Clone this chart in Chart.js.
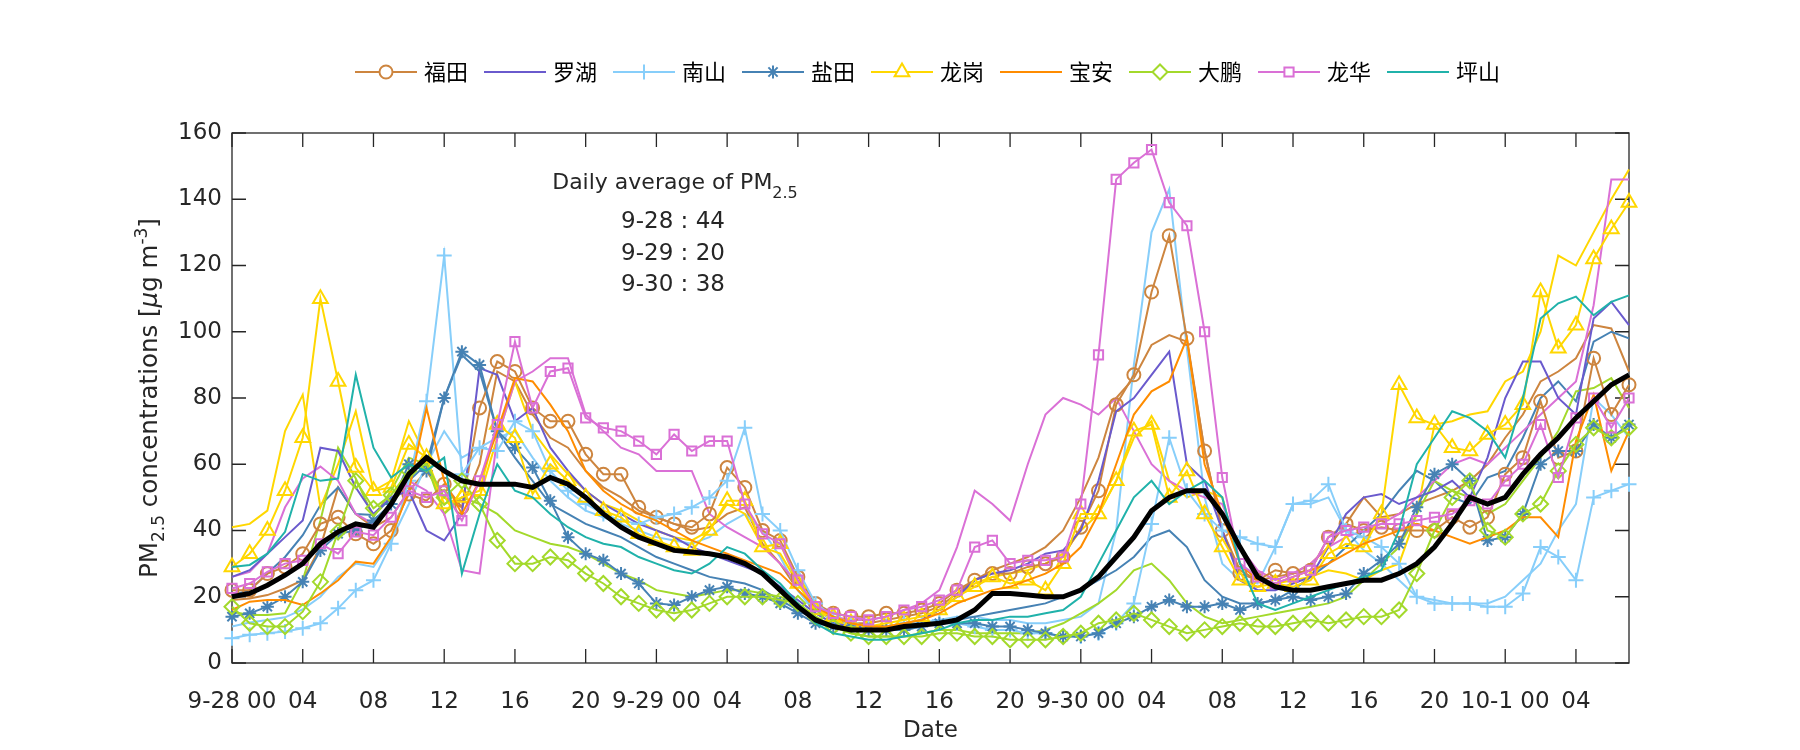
<!DOCTYPE html>
<html><head><meta charset="utf-8">
<script src="https://cdn.jsdelivr.net/npm/chart.js@4.4.1/dist/chart.umd.min.js"></script>
<style>html,body{margin:0;padding:0;background:#fff;}#wrap{width:1800px;height:750px;}</style>
</head><body><div id="wrap"><canvas id="c" width="1800" height="750"></canvas></div>
<script>
// ---------- tick labels (every 4 hours) ----------
const xTickLabels = ['9-28 00','04','08','12','16','20','9-29 00','04','08','12','16','20','9-30 00','04','08','12','16','20','10-1 00','04'];

// ---------- hourly PM2.5 series (9-28 00:00 ... 10-1 07:00) ----------
const futian   = [22,22,27,29,33,42,44,39,36,40, 51,49,54,47,77,91,88,77,73,73, 63,57,57,47,44,42,41,45,59,53, 40,37,26,18,15,14,14,15,15,16, 18,22,25,27,27,29,30,32,41,52, 78,87,112,129,98,64,40,27,25,28, 27,28,38,42,40,41,40,40,40,44, 41,44,57,62,79,62,64,92,75,84];
const futian2  = [19,19.5,20.5,22.5,25,35,53,45,41,44, 52,58,50,47,60,88,85,75,68,65, 58,53,50,46,44,42,40,41,45,47, 36,30,22,16,13,12,12,13,14,15, 17,21,25,28,30,32,35,40,50,62, 80,86,96,99,97,64,40,28,25,26, 27,30,35,42,50,44,45,48,50,52, 55,60,68,75,85,88,92,102,101,88];
const luohu    = [26,28,33,38,43,65,64,53,45,50, 52,40,37,45,89,87,73,77,65,58, 52,48,45,42,40,38,35,33,31,29, 27,23,19,15,12,11,11,11,12,13, 16,20,25,27,28,30,33,34,40,55, 76,80,87,94,60,55,40,25,22,22, 24,26,35,45,50,51,48,50,52,55, 50,62,80,91,91,80,75,104,109,102];
const nanshan  = [7.5,8.5,9,9.5,10.5,12,16.5,22,25,36, 55,79,123,57,65,64,73,70,58,52, 48,45,43,42,44,45,47,50,55,71, 45,40,28,18,14,12,11,11,12,12, 13,12,11,10,10,9,9,8,8,9, 12,18,42,68,52,45,40,38,36,35, 48,49,54,40,38,35,30,20,18,18, 18,17,17,21,35,32,25,50,52,54];
const nanshan2 = [11,12.2,13,13.8,16.2,20,26,30,29,37, 48,60,70,62,65,68,70,62,55,50, 46,44,42,40,38,37,36,38,42,45, 40,32,22,15,12,11,11,11,12,12, 13,14,14,13,13,12,12,13,14,18, 40,90,130,143,95,50,30,25,24,35, 48,48,50,40,34,30,25,20,19,18, 18,18,20,25,30,40,48,80,75,68];
const yantian  = [14,15,17,20,24.5,34,39,40,43,48, 60,58,80,94,90,70,65,59,49,38, 33,31,27,24,18,17.5,20,22,23,21, 20,18,15,12,11,11,10,10,10,11, 12,12,12,11,11,10,9,8,8,9, 12,14,17,19,17,17,18,16,18,19, 20,19,20,21,27,31,36,47,57,60, 55,37,38,45,60,64,64,72,68,72];
const yantian2 = [20.5,22,27,32,38.6,47.7,53,45,44.7,49.7, 55,60,80,93,88,70,62,55,48,45, 42,40,38,35,32,30,28,26,25,24, 22,19,16,13,11,10,10,10,10,11, 12,13,14,15,16,17,18,20,22,25, 28,32,38,40,35,25,20,18,18,19, 22,26,30,35,40,45,52,58,55,50, 48,56,58,68,80,85,79,97,100,98];
const longgang = [29,33,40,52,68,110,85,59,52,53, 66,62,48,50,52,72,68,51,60,55, 50,46,44,39,37,35,34,40,49,49, 35,36,24,16,14,12,11,12,13,14, 16,20,23,26,24,25,22,30,45,45, 55,70,72,50,58,45,35,25,23,24, 23,25,33,36,35,45,84,74,72,65, 64,69,72,78,112,95,102,122,131,139];
const longgang2= [41,42,46,70,81,47,60,76,52,55, 73,62,45,52,50,68,85,70,63,57, 52,48,46,43,40,38,37,40,48,45, 35,33,24,16,13,11,10,11,12,13, 16,20,24,26,27,28,30,33,40,45, 55,68,73,55,50,52,50,30,25,24, 25,26,28,27,25,28,30,45,72,73, 75,76,85,88,100,123,120,130,140,149];
const baoan    = [16,18.5,19,19,17.5,21,25,30.6,30,38, 52,77,55,45,55,70,86,85,78,70, 58,52,48,45,43,40,37,35,33,31, 29,27,22,17,14,12,11,11,12,13, 15,18,20,22,23,25,27,30,35,45, 60,75,82,85,98,60,45,30,25,24, 26,28,30,33,36,38,40,42,40,38, 36,38,40,44,44,38,67,81,58,70];
const dapeng   = [17,12,11,11,15.5,24.5,39.6,55,46.7,50.7, 58,60,50,55,48,37,30,30,32,31, 27,24,20,18,16,15,16,18,20,20, 20,19,18,14,11,9,8,8,8,8, 9,9,8,8,7,7,7,8,9,12, 13,15,13,11,9,10,11,12,11,11, 12,13,12,13,14,14,16,27,40,50, 55,40,38,45,48,58,66,71,68,71];
const dapeng2  = [15.5,14.5,14.5,15,25,43,65,55.7,44,52, 62,60,45,50,48,45,40,38,36,35, 33,30,27,25,22,21,20,21,22,22, 21,20,18,14,11,9,8,8,8,9, 10,10,9,9,9,9,10,12,15,18, 22,28,30,25,18,14,12,13,14,15, 16,17,18,20,25,30,35,45,55,52, 50,45,48,55,62,70,82,83,86,77];
const longhua  = [22.5,24,27.5,30,31,36,33,39.6,38.6,44, 52,50,52,43,55,72,97,77,88,89, 74,71,70,67,63,69,64,67,67,48, 39,36,25,17,15,14,13,14,16,17, 19,22,35,37,30,31,31,32,48,93, 146,151,155,139,132,100,56,30,26,24, 26,28,38,40,41,42,42,43,44,45, 49,48,55,60,72,56,74,80,71,80];
const longhua2 = [26,27.5,33,47,55.7,59.3,55,45,42,48, 55,52,45,28,27,68,85,88,92,92, 75,70,65,63,58,58,58,45,41,38, 35,30,24,17,14,13,13,14,16,18, 22,35,52,48,43,60,75,80,78,75, 80,70,60,55,52,50,48,35,28,25, 27,30,35,38,40,42,45,50,55,60, 62,60,65,70,75,80,85,108,146,146];
const pingshan = [29,29.6,33,39.6,57,55,55.7,87,65,56, 60,58,62,27,45,60,52,50,45,41, 38,36,35,32,30,28,27,30,35,33, 28,24,18,12,9,8,7,7,8,9, 10,12,13,13,14,14,15,16,20,30, 40,50,55,48,52,55,50,30,18,16, 18,20,22,24,26,28,40,60,68,76, 74,70,62,80,104,108.6,110.6,105,109,111];
const average  = [20,21,23.5,26.5,30,36,39.6,42,41,48, 57,62,58,55,54,54,54,53,56,54, 50,45,41,38,36,34,33.5,33,32,30, 27,22,17,13,11,10,10,10,11,11.5, 12,13,16,21,21,20.5,20,20,22,26, 32,38,46,50,52,52,45,35,26,23, 22,22,23,24,25,25,27,30,35,42, 50,48,50,57,63,68,74,79,84,87];

const dailyAvgLabels = ['9-28 : 44','9-29 : 20','9-30 : 38'];

// ---------- styles ----------
const C = {futian:'#CD853F', luohu:'#6A5ACD', nanshan:'#87CEFA', yantian:'#4682B4', longgang:'#FFD700',
           baoan:'#FF8C00', dapeng:'#A3D92B', longhua:'#DA70D6', pingshan:'#20B2AA'};
const TXT = '#262626';
const FONT = "'DejaVu Sans', 'Liberation Sans', sans-serif";

const legendDefs = [
  ['福田', futian,  C.futian,   'circle',   6.5],
  ['罗湖', luohu,   C.luohu,    null,       0],
  ['南山', nanshan, C.nanshan,  'cross',    7.5],
  ['盐田', yantian, C.yantian,  'star',     6.5],
  ['龙岗', longgang,C.longgang, 'triangle', 8.5],
  ['宝安', baoan,   C.baoan,    null,       0],
  ['大鹏', dapeng,  C.dapeng,   'rectRot',  7.5],
  ['龙华', longhua, C.longhua,  'rect',     6.5],
  ['坪山', pingshan,C.pingshan, null,       0]
];
const extraDefs = [
  ['福田2', futian2,  C.futian],
  ['南山2', nanshan2, C.nanshan],
  ['盐田2', yantian2, C.yantian],
  ['龙岗2', longgang2,C.longgang],
  ['大鹏2', dapeng2,  C.dapeng],
  ['龙华2', longhua2, C.longhua]
];

function toXY(arr){ return arr.map((v,i)=>({x:i, y:v})); }
function makeDs(label, arr, color, style, r, width, order){
  return {label, data: toXY(arr), borderColor: color, backgroundColor: color, borderWidth: width,
    pointStyle: style || false, pointRadius: style ? r : 0, pointHoverRadius: style ? r : 0,
    pointBorderWidth: 2, pointBorderColor: color, pointBackgroundColor: 'rgba(0,0,0,0)',
    tension: 0, clip: false, order};
}
const datasets = [];
legendDefs.forEach((d,i)=> datasets.push(makeDs(d[0], d[1], d[2], d[3], d[4], 2, 20 - i)));
extraDefs.forEach((d,i)=> datasets.push(makeDs(d[0], d[1], d[2], null, 0, 2, 30 - i)));
datasets.push(makeDs('平均', average, '#000000', null, 0, 5, 0));

// legend icons (line + marker), drawn with Chart.js point helper
const icons = legendDefs.map(d=>{
  const cv = document.createElement('canvas'); cv.width = 62; cv.height = 22;
  const g = cv.getContext('2d');
  g.strokeStyle = d[2]; g.lineWidth = 2;
  g.beginPath(); g.moveTo(0, 11); g.lineTo(62, 11); g.stroke();
  if (d[3]) {
    g.fillStyle = '#ffffff'; g.strokeStyle = d[2]; g.lineWidth = 2;
    Chart.helpers.drawPoint(g, {pointStyle: d[3], radius: d[4], rotation: 0, borderWidth: 2}, 31, 11);
  }
  return cv;
});

const legendPlace = {
  id: 'legendPlace',
  afterLayout(chart){
    const lg = chart.legend; if (!lg || !lg.lineWidths) return;
    const pad = lg.options.labels.padding;
    const start = (lg.left + pad + lg.right - lg.lineWidths[0]) / 2;
    const dx = 359 - start, dy = 41 - lg.top;
    lg.left += dx; lg.right += dx; lg.top += dy; lg.bottom += dy;
  }
};

const frame = {
  id: 'frame',
  beforeDatasetsDraw(chart){
    const {ctx, chartArea: a, scales: {x, y}} = chart;
    ctx.save();
    ctx.strokeStyle = TXT; ctx.lineWidth = 1.3;
    ctx.strokeRect(a.left, a.top, a.right - a.left, a.bottom - a.top);
    const tl = 14;
    ctx.beginPath();
    x.ticks.forEach(t=>{ const px = x.getPixelForValue(t.value);
      ctx.moveTo(px, a.bottom); ctx.lineTo(px, a.bottom - tl);
      ctx.moveTo(px, a.top); ctx.lineTo(px, a.top + tl); });
    y.ticks.forEach(t=>{ const py = y.getPixelForValue(t.value);
      ctx.moveTo(a.left, py); ctx.lineTo(a.left + tl, py);
      ctx.moveTo(a.right, py); ctx.lineTo(a.right - tl, py); });
    ctx.stroke(); ctx.restore();
  }
};

function drawRich(ctx, parts, x, y, align){
  let w = 0;
  parts.forEach(p=>{ ctx.font = p.font; w += ctx.measureText(p.t).width; });
  let cx = align === 'center' ? x - w/2 : x;
  ctx.textAlign = 'left';
  parts.forEach(p=>{ ctx.font = p.font; ctx.fillText(p.t, cx, y + (p.dy||0)); cx += ctx.measureText(p.t).width; });
}

const texts = {
  id: 'texts',
  afterDraw(chart){
    const {ctx, chartArea: a} = chart;
    ctx.save();
    ctx.fillStyle = TXT; ctx.textBaseline = 'alphabetic'; ctx.textAlign = 'left';
    const f = (s, it) => (it ? 'italic ' : '') + s + 'px ' + FONT;
    // y axis title
    ctx.save();
    ctx.translate(157, (a.top + a.bottom)/2);
    ctx.rotate(-Math.PI/2);
    drawRich(ctx, [
      {t:'PM', font:f(24.5)}, {t:'2.5', font:f(17), dy:7}, {t:' concentrations [', font:f(24.5)},
      {t:'μ', font:f(24.5,true)}, {t:'g m', font:f(24.5)}, {t:'-3', font:f(17), dy:-10}, {t:']', font:f(24.5)}
    ], 0, 0, 'center');
    ctx.restore();
    // daily averages annotation
    const cx = a.left + 443;
    drawRich(ctx, [{t:'Daily average of PM', font:f(22)}, {t:'2.5', font:f(16), dy:9}], cx, a.top + 56, 'center');
    dailyAvgLabels.forEach((s,i)=>{ ctx.font = f(23); ctx.textAlign = 'center'; ctx.fillText(s, cx - 2, a.top + 95 + i*31.7); });
    ctx.restore();
  }
};

new Chart(document.getElementById('c'), {
  type: 'line',
  data: {datasets},
  options: {
    responsive: false, animation: false, devicePixelRatio: 1,
    layout: {padding: {top: 81, right: 171, bottom: 0, left: 0}},
    plugins: {
      tooltip: {enabled: false},
      legend: {
        display: true, position: 'top',
        labels: {
          usePointStyle: true, pointStyleWidth: 54, padding: 20, color: '#000',
          font: {family: "'Noto Sans CJK SC', sans-serif", size: 22},
          generateLabels: () => legendDefs.map((d,i)=>({text: d[0], pointStyle: icons[i], fillStyle: 'rgba(0,0,0,0)',
            strokeStyle: 'rgba(0,0,0,0)', lineWidth: 0, hidden: false, datasetIndex: i, fontColor: '#000'}))
        }
      }
    },
    scales: {
      x: {type: 'linear', min: 0, max: 79,
        grid: {display: false, drawTicks: false}, border: {display: false},
        ticks: {stepSize: 4, includeBounds: false, autoSkip: false, maxRotation: 0, padding: 25, color: TXT,
          font: {family: FONT, size: 23},
          callback: v => (v % 4 === 0 ? xTickLabels[v/4] : '')},
        title: {display: true, text: 'Date', color: TXT, font: {family: FONT, size: 23}, padding: {top: 0, bottom: 5}},
        afterFit: s => { s.height = 87; }
      },
      y: {min: 0, max: 160,
        grid: {display: false, drawTicks: false}, border: {display: false},
        ticks: {stepSize: 20, padding: 10, color: TXT, font: {family: FONT, size: 23}},
        afterFit: s => { s.width = 232; }
      }
    }
  },
  plugins: [legendPlace, frame, texts]
});
</script>
</body></html>
